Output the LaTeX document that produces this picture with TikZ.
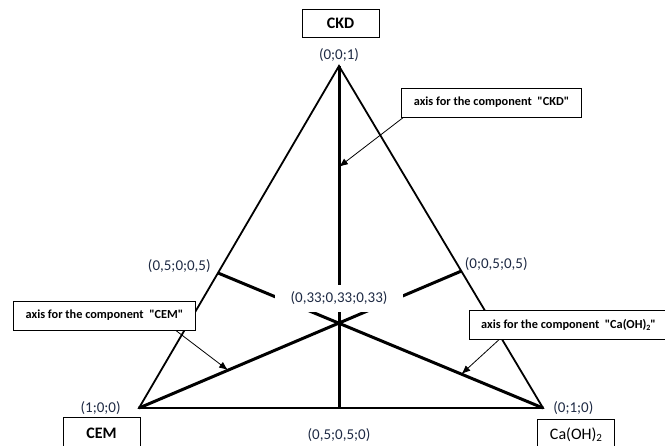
\documentclass[tikz,border=0pt]{standalone}
\usepackage{fontspec}
\setmainfont{Carlito}
\usetikzlibrary{arrows.meta,positioning,calc}
\definecolor{lblc}{HTML}{1E2A44}
\newcommand{\subtwo}[1]{\raisebox{-1.5pt}{\fontsize{#1}{#1}\selectfont 2}}
\tikzset{
  vtx/.style={inner sep=0pt, minimum size=0pt},
  side/.style={line width=1.8pt, line join=miter},
  axisln/.style={line width=3pt},
  coord/.style={font=\fontsize{15}{18}\selectfont, text=lblc, inner sep=0pt},
  comp/.style={draw, line width=0.9pt, fill=white, font=\fontsize{16}{19}\selectfont, minimum width=77pt, minimum height=28pt, inner sep=0pt},
  note/.style={draw, line width=0.9pt, fill=white, font=\bfseries\fontsize{12.3}{14}\selectfont, minimum height=29pt, inner xsep=12pt},
  point/.style={-{Latex[length=9pt,width=7pt]}, line width=0.8pt},
}
\begin{document}
\begin{tikzpicture}[x=1pt, y=-1pt]
  \useasboundingbox (0,0) rectangle (665,446);
  % corners and middles of the sides
  \node[vtx, label={[coord, label distance=4pt]above:{(0;0;1)}}] (ckd) at (339,66) {};
  \node[vtx, label={[coord, label distance=18pt]left:{(1;0;0)}}] (cem) at (139,408) {};
  \node[vtx, label={[coord, label distance=10pt]right:{(0;1;0)}}] (cao) at (543,408) {};
  \node[vtx, label={[coord, label distance=7pt, yshift=7pt]left:{(0,5;0;0,5)}}] (ls) at (218,273) {};
  \node[vtx, label={[coord, label distance=3pt, yshift=7pt]right:{(0;0,5;0,5)}}] (rs) at (461.5,271) {};
  \node[vtx, label={[coord, label distance=20pt]below:{(0,5;0,5;0)}}] (bs) at (339,408) {};
  \draw[side] (ckd.center) -- (cem.center) -- (cao.center) -- cycle;
  \draw[axisln] (ckd.center) -- (bs.center);
  \draw[axisln] (cem.center) -- (rs.center);
  \draw[axisln] (cao.center) -- (ls.center);
  \node[coord, fill=white, minimum width=128pt, minimum height=27pt] (mid) at (339,298.5) {(0,33;0,33;0,33)};
  % component names
  \node[comp, font=\bfseries\fontsize{16}{19}\selectfont] (ckdbox) at (340.5,23) {CKD};
  \node[comp, font=\bfseries\fontsize{16}{19}\selectfont, minimum height=32pt] (cembox) at (101.5,433) {CEM};
  \node[comp, minimum height=32pt] (caobox) at (576,435) {Ca(OH)\subtwo{11}};
  % axis notes
  \node[note] (ckdnote) at (491.5,102.5) {axis for the component~~\textquotedbl CKD\textquotedbl};
  \node[note] (cemnote) at (104.5,315.5) {axis for the component~~\textquotedbl CEM\textquotedbl};
  \node[note] (caonote) at (568.5,325) {axis for the component~~\textquotedbl Ca(OH)\subtwo{8}\textquotedbl};
  \coordinate (ckdax) at ($(ckd.center)!0.295!(bs.center)$);
  \coordinate (cemax) at ($(cem.center)!0.276!(rs.center)$);
  \coordinate (caoax) at ($(cao.center)!0.251!(ls.center)$);
  \draw[point] ([xshift=2pt]ckdnote.south west) -- (ckdax);
  \draw[point] ([xshift=-20pt]cemnote.south east) -- (cemax);
  \draw[point] ([xshift=30pt]caonote.south west) -- (caoax);
\end{tikzpicture}
\end{document}
